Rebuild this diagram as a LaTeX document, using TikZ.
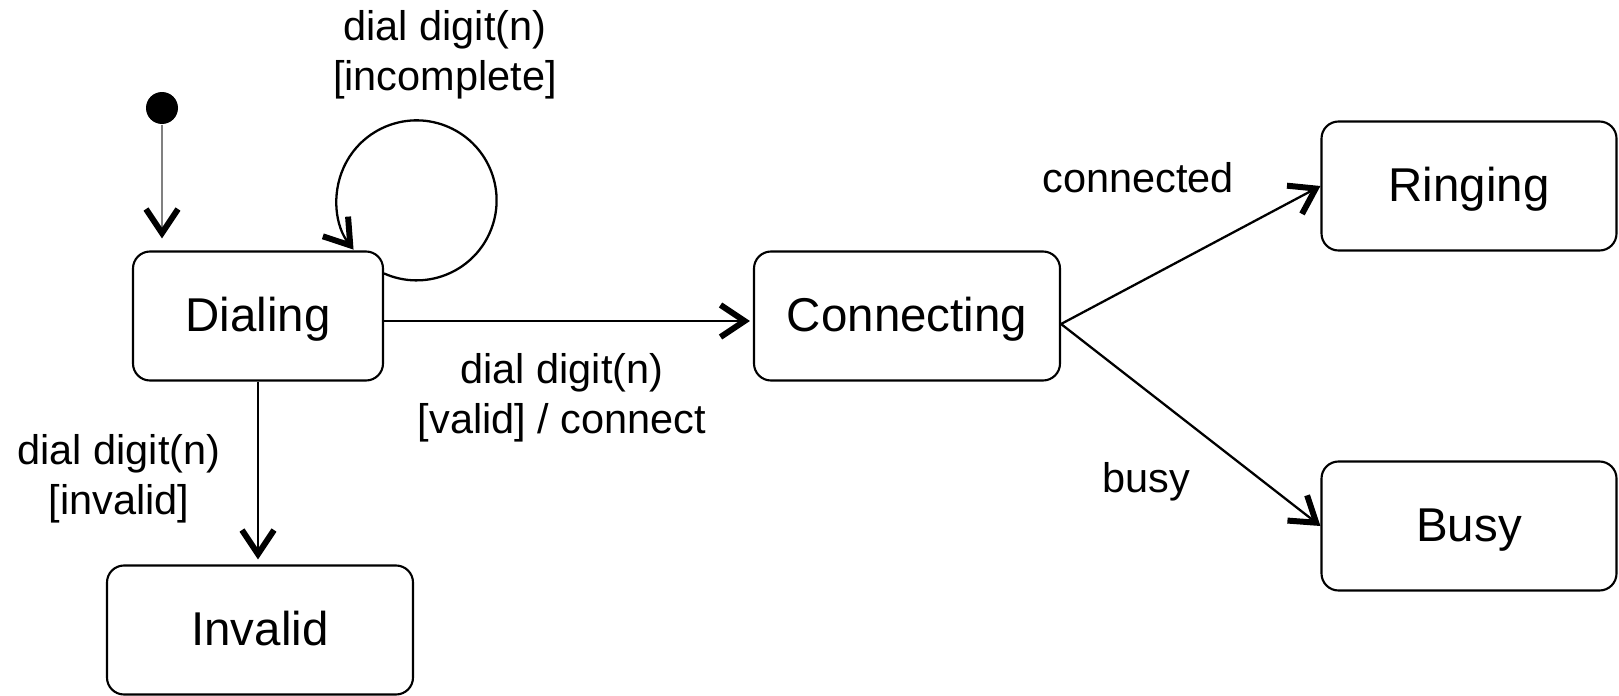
\documentclass[tikz,border=0pt]{standalone}
\usepackage{fontspec}
\setmainfont{Liberation Sans}
\usetikzlibrary{arrows.meta}

\begin{document}
\begin{tikzpicture}[
    state/.style={draw, line width=0.6pt, rounded corners=0.17cm, align=center,
                  minimum height=1.29cm, text height=0.9em, text depth=0pt,
                  font=\fontsize{13.5}{16}\selectfont},
    lbl/.style={align=center, font=\fontsize{11.8}{14.2}\selectfont},
    trans/.style={line width=0.65pt,
                  -{Straight Barb[length=0.24cm, width=0.32cm, line width=1.7pt, color=black]}}
  ]

  \useasboundingbox (0,0) rectangle (16.19,6.95);

  % states
  \node[fill=black, circle, inner sep=0pt, minimum size=0.32cm] (start) at (1.62,5.87) {};
  \node[state, minimum width=2.5cm]  (Dialing)    at (2.58,3.79) {Dialing};
  \node[state, minimum width=3.06cm] (Invalid)    at (2.60,0.65) {Invalid};
  \node[state, minimum width=3.06cm] (Connecting) at (9.07,3.79) {Connecting};
  \node[state, minimum width=2.95cm] (Ringing)    at (14.69,5.09) {Ringing};
  \node[state, minimum width=2.95cm] (Busy)       at (14.69,1.69) {Busy};

  % labels
  \node[lbl] (loopLbl)    at (4.45,6.40) {dial digit(n)\\{[incomplete]}};
  \node[lbl] (invalidLbl) at (1.19,2.16) {dial digit(n)\\{[invalid]}};
  \node[lbl] (validLbl)   at (5.62,2.97) {dial digit(n)\\{[valid] / connect}};
  \node[lbl] (connLbl)    at (11.38,5.17) {connected};
  \node[lbl] (busyLbl)    at (11.46,2.13) {busy};

  % transitions
  \draw[trans, gray, line width=0.8pt, shorten >=0.12cm] (start) -- (start |- Dialing.north);
  \draw[trans] ([yshift=-0.23cm]Dialing.north east) arc[start angle=-114, end angle=218, radius=0.8];
  \draw[trans, shorten >=0.05cm] (Dialing.south) -- (Dialing.south |- Invalid.north);
  \draw[trans, shorten >=0.03cm] ([yshift=-0.05cm]Dialing.east) -- ([yshift=-0.05cm]Connecting.west);
  \draw[trans] ([yshift=-0.08cm]Connecting.east) -- (Ringing.west);
  \draw[trans] ([yshift=-0.08cm]Connecting.east) -- (Busy.west);

\end{tikzpicture}
\end{document}
